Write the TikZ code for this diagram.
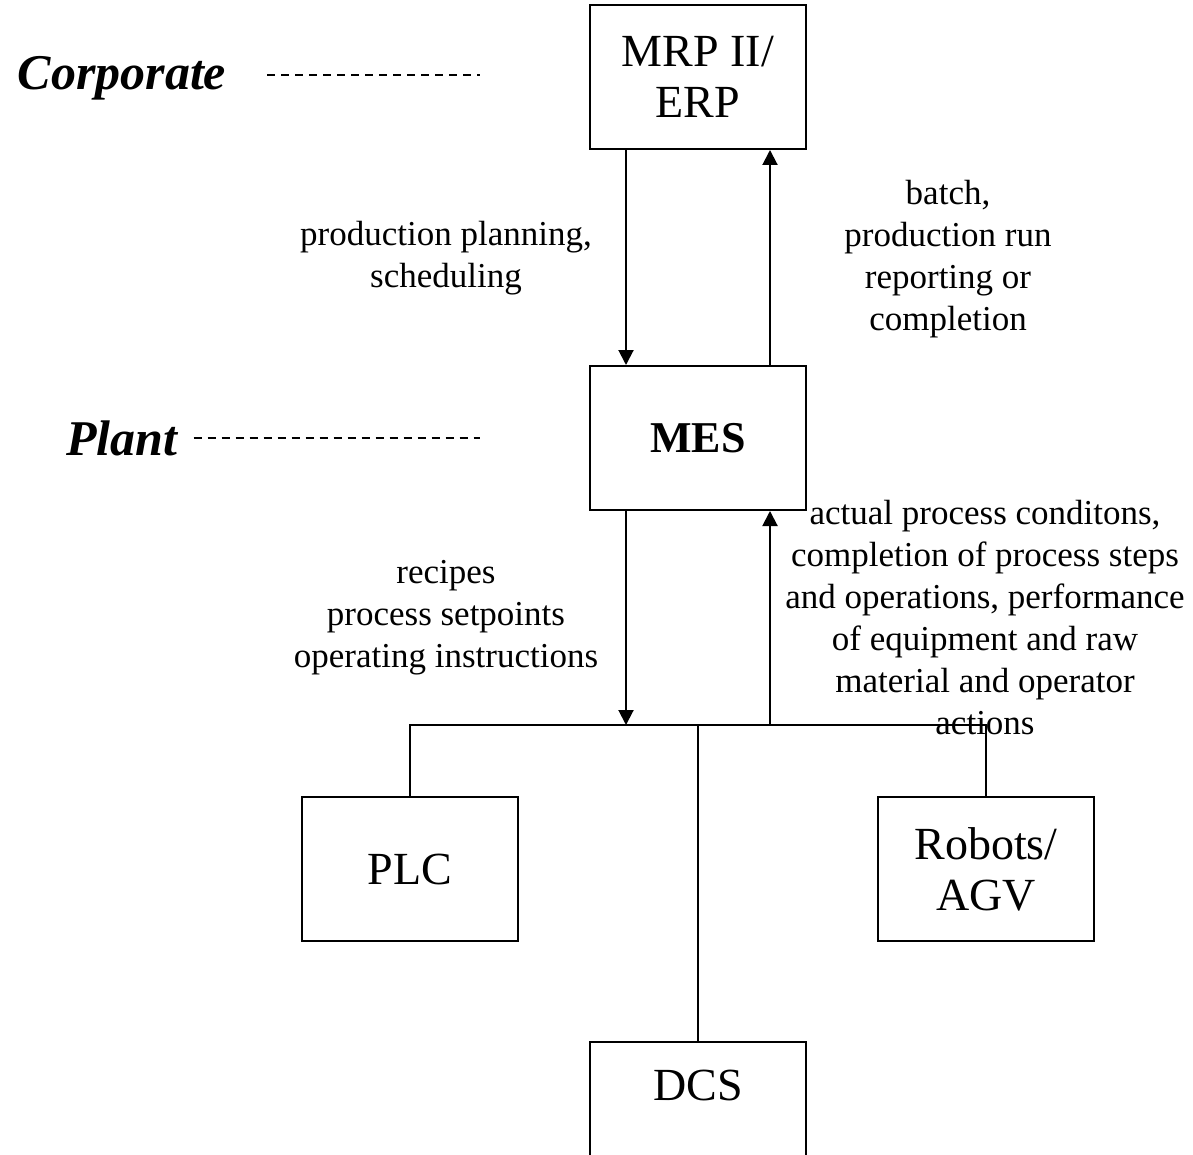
\documentclass[tikz,border=0pt]{standalone}
\usepackage{fontspec}
\setmainfont{Liberation Serif}
\usetikzlibrary{arrows.meta}

\begin{document}
\begin{tikzpicture}[x=0.5pt, y=-0.5pt, line width=1pt,
		box/.style={draw, minimum width=108pt, minimum height=72pt, inner sep=0pt,
			align=center, font=\fontsize{23}{25.5}\selectfont},
		boxtext/.style={inner sep=0pt, font=\fontsize{23}{25.5}\selectfont},
		flowlabel/.style={align=center, inner sep=0pt, font=\fontsize{17.5}{21}\selectfont},
		level/.style={inner sep=0pt, font=\fontsize{25}{30}\selectfont\bfseries\itshape},
		levelline/.style={dash pattern=on 4pt off 3pt, line width=0.6pt},
		arr/.style={-{Triangle[length=7.5pt, width=7.5pt]}}]
	\useasboundingbox (0,0) rectangle (1193,1155);
	% levels
	\node[level] (corporate) at (122,78) {Corporate};
	\node[level] (plant) at (122,438) {Plant};
	\coordinate (corpend) at (480,75);
	\coordinate (plantend) at (480,438);
	\draw[levelline] (corporate.east) ++(40,-3) -- (corpend);
	\draw[levelline] (plant.east) ++(15,0) -- (plantend);
	% boxes
	\node[box] (erp) at (698,77) {MRP II/\\ERP};
	\node[box, font=\fontsize{22}{26}\selectfont\bfseries] (mes) at (698,438) {MES};
	\node[box] (plc) at (410,869) {PLC};
	\node[box] (robots) at (986,869) {Robots/\\AGV};
	\node[box] (dcs) at (698,1114) {};
	\node[boxtext] (dcstext) at (698,1085) {DCS};
	% flows between ERP and MES
	\draw[arr] ([xshift=-36pt]erp.south) -- ([xshift=-36pt]mes.north);
	\draw[arr] ([xshift=36pt]mes.north) -- ([xshift=36pt]erp.south);
	\node[flowlabel] (plan) at (446,258) {production planning,\\scheduling};
	\node[flowlabel] (report) at (948,259) {batch,\\production run\\reporting or\\completion};
	% bus to the plant floor
	\coordinate (bus) at (698,725);
	\draw (plc.north) -- (plc.north |- bus) -- (robots.north |- bus) -- (robots.north);
	\draw (dcs.north) -- (bus);
	\draw[arr] ([xshift=-36pt]mes.south) -- ([xshift=-36pt]mes.south |- bus);
	\draw[arr] ([xshift=36pt]mes.south |- bus) -- ([xshift=36pt]mes.south);
	\node[flowlabel] (recipes) at (446,618) {recipes\\process setpoints\\operating instructions};
	\node[flowlabel] (actual) at (985,618) {actual process conditons,\\completion of process steps\\and operations, performance\\of equipment and raw\\material and operator\\actions};
\end{tikzpicture}
\end{document}
